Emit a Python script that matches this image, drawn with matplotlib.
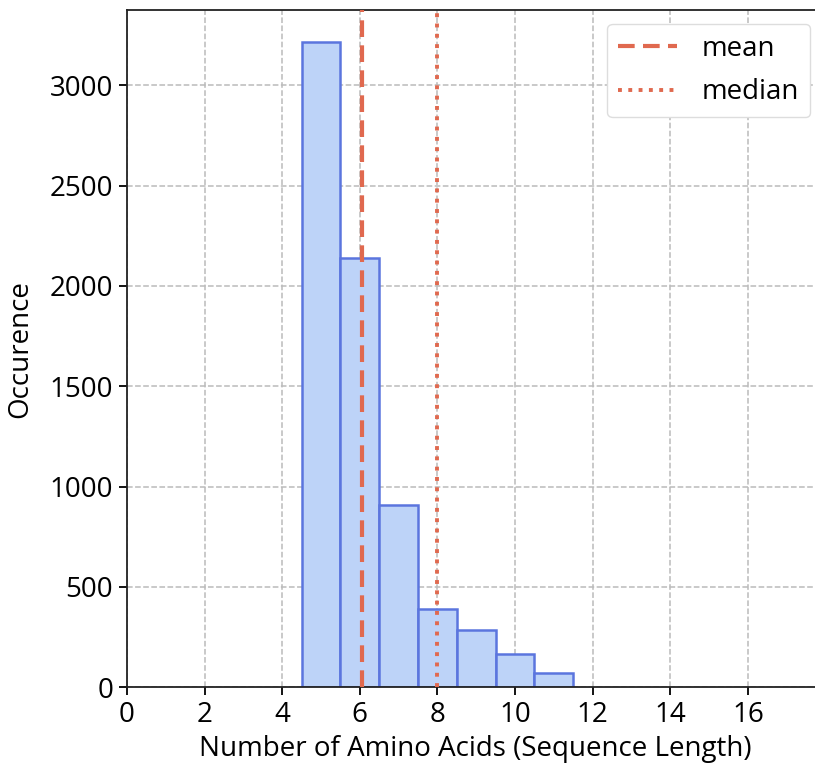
import numpy as np
import matplotlib
matplotlib.use("Agg")
import matplotlib.pyplot as plt

plt.rcParams['font.family'] = ['Open Sans', 'DejaVu Sans']

# sequence length histogram (counts per length)
seq_lengths = [5, 6, 7, 8, 9, 10, 11]
counts = [3214, 2140, 908, 391, 285, 164, 70]
median_len = 8

mean_len = np.average(seq_lengths, weights=counts)

line_color = '#e0694f'

fig = plt.figure(figsize=(8.15, 7.65), dpi=100)
# axes run a little past the right edge of the canvas
ax = fig.add_axes([0.1558, 0.1016, 0.8552, 0.8854])

ax.bar(seq_lengths, counts, width=1.0, color='#bdd3f8',
       edgecolor='#5b75de', linewidth=1.8, zorder=2)

ax.axvline(mean_len, color=line_color, linestyle='--', linewidth=3,
           dashes=(4, 2), label='mean', zorder=3)
ax.axvline(median_len, color=line_color, linestyle=':', linewidth=2.8,
           label='median', zorder=3)

ax.set_xlim(0, 17.96)
ax.set_ylim(0, 3375)
ax.set_xticks(np.arange(0, 17, 2))
ax.set_yticks(np.arange(0, 3001, 500))
ax.grid(True, linestyle='--', color='#bbbbbb', linewidth=1.1, zorder=0)
ax.set_axisbelow(True)

ax.spines['right'].set_visible(False)
for s in ['left', 'top', 'bottom']:
    ax.spines[s].set_linewidth(1.3)
    ax.spines[s].set_color('#222222')

ax.tick_params(axis='both', labelsize=20, length=6, width=1.3, pad=4)
ax.set_xlabel('Number of Amino Acids (Sequence Length)', fontsize=20, labelpad=4)
ax.set_ylabel('Occurence', fontsize=20, labelpad=11)

ax.legend(loc='upper right', fontsize=20, handlelength=2.1,
          borderpad=0.4, labelspacing=0.55, handletextpad=0.9,
          borderaxespad=0.5, framealpha=1, edgecolor='#dddddd')

fig.savefig('out.png', dpi=100)
